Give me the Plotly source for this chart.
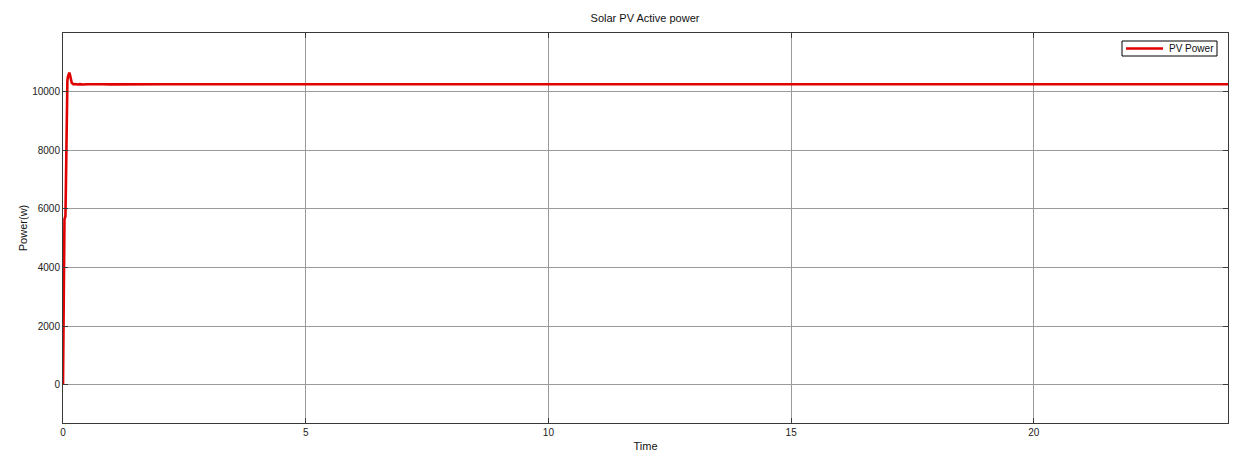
import plotly.graph_objects as go

# Time (h) and PV active power (W)
time_vals = [0, 0.01, 0.02, 0.03, 0.04, 0.05, 0.06, 0.07, 0.08, 0.09, 0.10, 0.11, 0.12,
             0.13, 0.14, 0.15, 0.16, 0.18, 0.20, 0.22, 0.25, 0.30, 0.35, 0.40, 0.50,
             0.60, 0.80, 1.00, 1.20, 1.50, 1.80, 2.00, 24.0]
power_vals = [0, 2600, 4800, 5650, 5700, 5750, 6800, 8600, 9900, 10350, 10500, 10580, 10630,
              10650, 10600, 10480, 10380, 10300, 10270, 10250, 10258, 10242, 10256, 10246, 10254,
              10246, 10253, 10247, 10252, 10248, 10251, 10250, 10250]

x_ticks = [0, 5, 10, 15, 20]
y_ticks = [0, 2000, 4000, 6000, 8000, 10000]
series_name = "PV Power"

# page body has an 8px margin, so the figure is sized to sit inside the window
W, H = 1230, 444
L, R, T, B = 55, 10, 25, 29
PW, PH = W - L - R, H - T - B

def px_x(p):  # figure pixel -> paper x
    return (p - L) / PW

def px_y(p):  # figure pixel -> paper y
    return 1 - (p - T) / PH

FONT = "Liberation Sans, Arial"
RED = "rgb(225,0,0)"

fig = go.Figure()
fig.add_trace(go.Scatter(
    x=time_vals, y=power_vals, mode="lines", name=series_name,
    line=dict(color=RED, width=2.6), showlegend=False,
))

axis_common = dict(
    showline=True, linecolor="#3a3a3a", linewidth=1, mirror="ticks",
    ticks="inside", ticklen=5, tickcolor="#3a3a3a",
    showgrid=True, gridcolor="#9a9a9a", gridwidth=1,
    zeroline=False, automargin=False,
    tickfont=dict(family=FONT, size=10, color="#222"),
)

# legend box drawn in paper coordinates (figure pixels: x 1114-1209, y 33-48)
fig.add_shape(type="rect", xref="paper", yref="paper",
              x0=px_x(1114), x1=px_x(1209), y0=px_y(48), y1=px_y(33),
              line=dict(color="black", width=1), fillcolor="white", layer="above")
fig.add_shape(type="line", xref="paper", yref="paper",
              x0=px_x(1118), x1=px_x(1155), y0=px_y(40.5), y1=px_y(40.5),
              line=dict(color=RED, width=2.6), layer="above")
fig.add_annotation(text=series_name, xref="paper", yref="paper",
                   x=px_x(1159), y=px_y(40.5), xanchor="left", yanchor="middle",
                   showarrow=False, font=dict(family=FONT, size=10, color="#111"))

fig.update_layout(
    width=W, height=H,
    margin=dict(l=L, r=R, t=T, b=B, autoexpand=False),
    paper_bgcolor="white", plot_bgcolor="white",
    title=dict(text="Solar PV Active power", x=(637) / W, xanchor="center",
               y=1 - 10 / H, yanchor="middle", yref="container",
               font=dict(family=FONT, size=11, color="#111")),
    xaxis=dict(range=[0, 24], tickvals=x_ticks, ticktext=[str(v) for v in x_ticks],
               title=dict(text="Time", standoff=5,
                          font=dict(family=FONT, size=11, color="#111")),
               **axis_common),
    yaxis=dict(range=[-1300, 12000], tickvals=y_ticks, ticktext=[str(v) for v in y_ticks],
               title=dict(text="Power(w)", standoff=2,
                          font=dict(family=FONT, size=11, color="#111")),
               **axis_common),
    showlegend=False,
)

fig.write_html("out.html")
